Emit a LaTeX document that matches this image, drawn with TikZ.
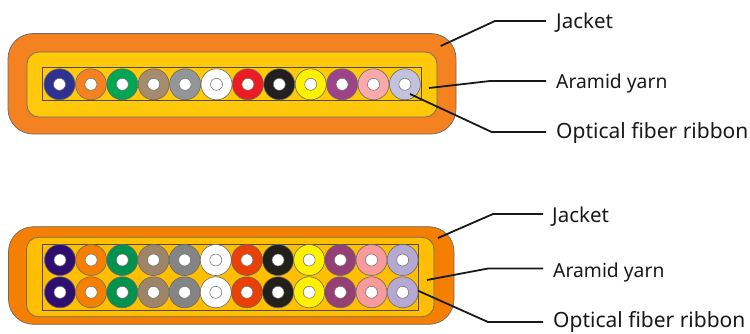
\documentclass[tikz,border=0pt]{standalone}
\usepackage{fontspec}
\setmainfont{Noto Sans}
\definecolor{tjacket}{HTML}{F58220}
\definecolor{tyarn}{HTML}{FFC90A}
\definecolor{bjacket}{HTML}{F57F00}
\definecolor{byarn}{HTML}{FFBF00}
\definecolor{edgegray}{HTML}{6A6A6A}
\definecolor{ta}{HTML}{2E3192}\definecolor{tb}{HTML}{F58220}\definecolor{tc}{HTML}{00A651}
\definecolor{td}{HTML}{A68B6C}\definecolor{te}{HTML}{939598}\definecolor{tf}{HTML}{FFFFFF}
\definecolor{tg}{HTML}{ED1C24}\definecolor{th}{HTML}{231F20}\definecolor{ti}{HTML}{FFF200}
\definecolor{tj}{HTML}{9E4389}\definecolor{tk}{HTML}{F9A9AB}\definecolor{tl}{HTML}{C4C1DE}
\definecolor{ba}{HTML}{2E0F70}\definecolor{bb}{HTML}{F58000}\definecolor{bc}{HTML}{00924E}
\definecolor{bd}{HTML}{9E8568}\definecolor{be}{HTML}{848484}\definecolor{bf}{HTML}{FFFFFF}
\definecolor{bg}{HTML}{E84006}\definecolor{bh}{HTML}{231F1B}\definecolor{bi}{HTML}{FFF000}
\definecolor{bj}{HTML}{963F74}\definecolor{bk}{HTML}{F79A9C}\definecolor{bl}{HTML}{B5A8D3}
\tikzset{
  layer/.style={draw=edgegray,line width=0.7pt},
  fiber/.style={circle,draw=edgegray,line width=0.6pt,minimum size=31pt,inner sep=0pt,outer sep=0pt},
  core/.style={circle,fill=white,draw=edgegray,line width=0.5pt,minimum size=12pt,inner sep=0pt},
  leader/.style={draw=black!90,line width=1.8pt,line join=round},
  lab/.style={anchor=base west,inner sep=0pt,text=black!90},
  labj/.style={lab,font=\fontsize{20.5}{24}\selectfont},
  laba/.style={lab,font=\fontsize{19.3}{23}\selectfont},
  labo/.style={lab,font=\fontsize{21}{25}\selectfont},
}
\begin{document}
\begin{tikzpicture}[x=1pt,y=-1pt]
\useasboundingbox (0,0) rectangle (750,333);
% top cable
\draw[layer,fill=tjacket,rounded corners=25pt] (8,33.5) rectangle (456,134);
\draw[layer,fill=tyarn,rounded corners=12pt] (27,52) rectangle (437,117);
\draw[draw=black!70,line width=0.6pt] (42.5,67.3) rectangle (421.7,100.7);
\foreach \i/\c in {0/ta,1/tb,2/tc,3/td,4/te,5/tf,6/tg,7/th,8/ti,9/tj,10/tk,11/tl}{
  \node[fiber,fill=\c] (t\i) at ({59.5+31.4*\i},84.3) {};
  \node[core] (tc\i) at (t\i) {};
}
% bottom cable
\draw[layer,fill=bjacket,rounded corners=25pt] (8.5,226.7) rectangle (454,324.3);
\draw[layer,fill=byarn,rounded corners=12pt] (26.5,237.3) rectangle (434,316.7);
\draw[draw=black!70,line width=0.6pt] (42.5,244.3) rectangle (418,310.7);
\foreach \i/\c in {0/ba,1/bb,2/bc,3/bd,4/be,5/bf,6/bg,7/bh,8/bi,9/bj,10/bk,11/bl}{
  \node[fiber,fill=\c] (u\i) at ({60+31.15*\i},260) {};
  \node[core] (uc\i) at (u\i) {};
  \node[fiber,fill=\c] (v\i) at ({60+31.15*\i},292.3) {};
  \node[core] (vc\i) at (v\i) {};
}
% labels
\node[labj] (tj1) at (556,28) {Jacket};
\node[laba] (ta1) at (556,88) {Aramid yarn};
\node[labo] (to1) at (556,138) {Optical fiber ribbon};
\node[labj] (bj1) at (552,222) {Jacket};
\node[laba] (ba1) at (553,277) {Aramid yarn};
\node[labo] (bo1) at (553,327.5) {Optical fiber ribbon};
% leaders
\coordinate (tj0) at (440.7,46); \coordinate (tje) at (546,21);
\coordinate (ta0) at (429,88);   \coordinate (tae) at (546,81);
\coordinate (to0) at (410,94);   \coordinate (toe) at (546,132);
\coordinate (bj0) at (438,238);  \coordinate (bje) at (543,214);
\coordinate (ba0) at (427,280);  \coordinate (bae) at (543,268.5);
\coordinate (bo0) at (418,290.7);\coordinate (boe) at (543,322);
\draw[leader] (tj0) -- (495,21) -- (tje);
\draw[leader] (ta0) -- (490,81) -- (tae);
\draw[leader] (to0) -- (491.7,132) -- (toe);
\draw[leader] (bj0) -- (493,214) -- (bje);
\draw[leader] (ba0) -- (488,268.5) -- (bae);
\draw[leader] (bo0) -- (488,322) -- (boe);
\end{tikzpicture}
\end{document}
